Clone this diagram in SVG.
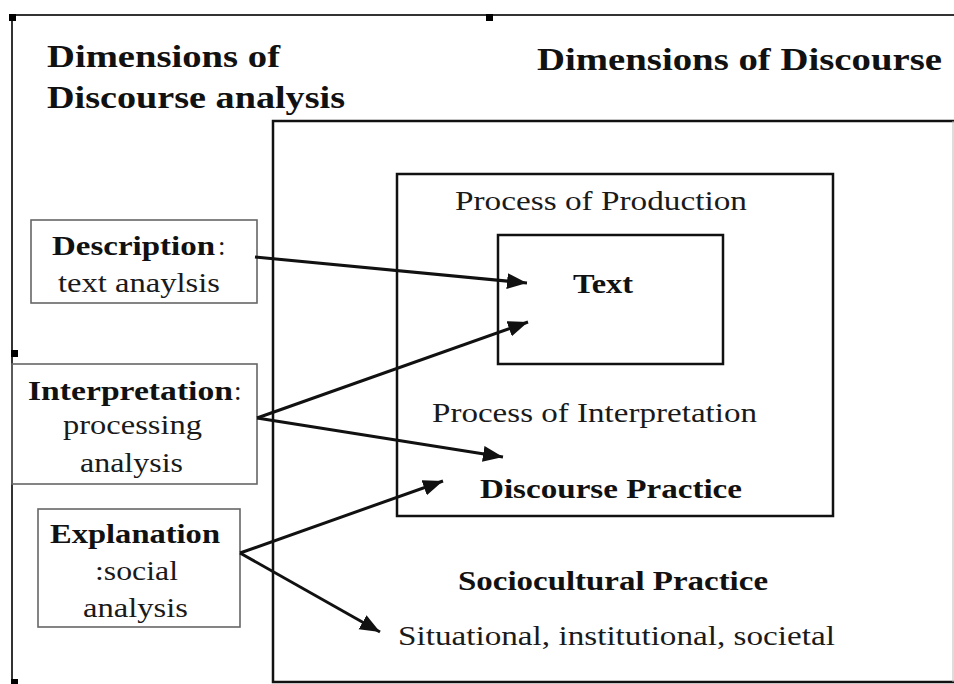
<svg xmlns="http://www.w3.org/2000/svg" width="954" height="684" viewBox="0 0 954 684">
<style>
text{font-family:'Liberation Serif',Tinos,'Times New Roman',Times,serif;fill:#1a1a1a}
.b{font-weight:bold;fill:#111}
.big{font-size:32px}
.md{font-size:27px}
.frame{fill:none;stroke:#333;stroke-width:2}
.box{fill:none;stroke:#111;stroke-width:2.5}
.sbox{fill:none;stroke:#666;stroke-width:1.6}
.conn{stroke:#111;stroke-width:3;fill:none}
.handle{fill:#000}
</style>
<defs>
<marker id="ah" markerUnits="userSpaceOnUse" markerWidth="22" markerHeight="18" refX="20" refY="8" orient="auto">
<path d="M0,0 L20,8 L0,16 z" fill="#111"/>
</marker>
</defs>
<rect width="954" height="684" fill="#fff"/>
<g id="frame">
<path class="frame" d="M12,684 L12,15 L954,15"/>
<rect class="handle" x="9" y="14" width="7" height="7"/>
<rect class="handle" x="486" y="14" width="7" height="7"/>
<rect class="handle" x="11" y="350" width="7" height="7"/>
<rect class="handle" x="11" y="679" width="7" height="5"/>
<text class="b big" x="47" y="67" textLength="233" lengthAdjust="spacingAndGlyphs">Dimensions of</text>
<text class="b big" x="47" y="108" textLength="298" lengthAdjust="spacingAndGlyphs">Discourse analysis</text>
<text class="b big" x="537" y="70" textLength="405" lengthAdjust="spacingAndGlyphs">Dimensions of Discourse</text>
</g>
<g id="sociocultural">
<path class="box" d="M954,121 L273,121 L273,682 L954,682"/>
<line x1="953" y1="121" x2="953" y2="682" stroke="#bbb" stroke-width="1"/>
<text class="b md" x="458" y="590" textLength="310" lengthAdjust="spacingAndGlyphs">Sociocultural Practice</text>
<text class="md" x="398" y="645" textLength="437" lengthAdjust="spacingAndGlyphs">Situational, institutional, societal</text>
</g>
<g id="discourse-practice">
<rect class="box" x="397" y="174" width="436" height="342"/>
<text class="md" x="455" y="210" textLength="292" lengthAdjust="spacingAndGlyphs">Process of Production</text>
<text class="md" x="432" y="422" textLength="325" lengthAdjust="spacingAndGlyphs">Process of Interpretation</text>
<text class="b md" x="480" y="498" textLength="262" lengthAdjust="spacingAndGlyphs">Discourse Practice</text>
</g>
<g id="text-box">
<rect class="box" x="498" y="235" width="225" height="129"/>
<text class="b md" x="573" y="293" textLength="60" lengthAdjust="spacingAndGlyphs">Text</text>
</g>
<g id="description">
<rect class="sbox" x="31" y="220" width="226" height="83"/>
<text class="b md" x="52" y="255" textLength="163" lengthAdjust="spacingAndGlyphs">Description</text>
<text class="md" x="218" y="255">:</text>
<text class="md" x="58" y="292" textLength="162" lengthAdjust="spacingAndGlyphs">text anaylsis</text>
</g>
<g id="interpretation">
<rect class="sbox" x="12" y="364" width="245" height="120"/>
<text class="b md" x="28" y="400" textLength="205" lengthAdjust="spacingAndGlyphs">Interpretation</text>
<text class="md" x="234" y="400">:</text>
<text class="md" x="63" y="434" textLength="139" lengthAdjust="spacingAndGlyphs">processing</text>
<text class="md" x="80" y="472" textLength="103" lengthAdjust="spacingAndGlyphs">analysis</text>
</g>
<g id="explanation">
<rect class="sbox" x="38" y="509" width="202" height="118"/>
<text class="b md" x="50" y="543" textLength="170" lengthAdjust="spacingAndGlyphs">Explanation</text>
<text class="md" x="95" y="580" textLength="83" lengthAdjust="spacingAndGlyphs">:social</text>
<text class="md" x="83" y="617" textLength="105" lengthAdjust="spacingAndGlyphs">analysis</text>
</g>
<g id="connectors">
<line class="conn" x1="255" y1="257" x2="527" y2="283" marker-end="url(#ah)"/>
<line class="conn" x1="257" y1="418" x2="528" y2="322" marker-end="url(#ah)"/>
<line class="conn" x1="257" y1="418" x2="503" y2="457" marker-end="url(#ah)"/>
<line class="conn" x1="240" y1="553" x2="443" y2="481" marker-end="url(#ah)"/>
<line class="conn" x1="240" y1="553" x2="380" y2="632" marker-end="url(#ah)"/>
</g>
</svg>
